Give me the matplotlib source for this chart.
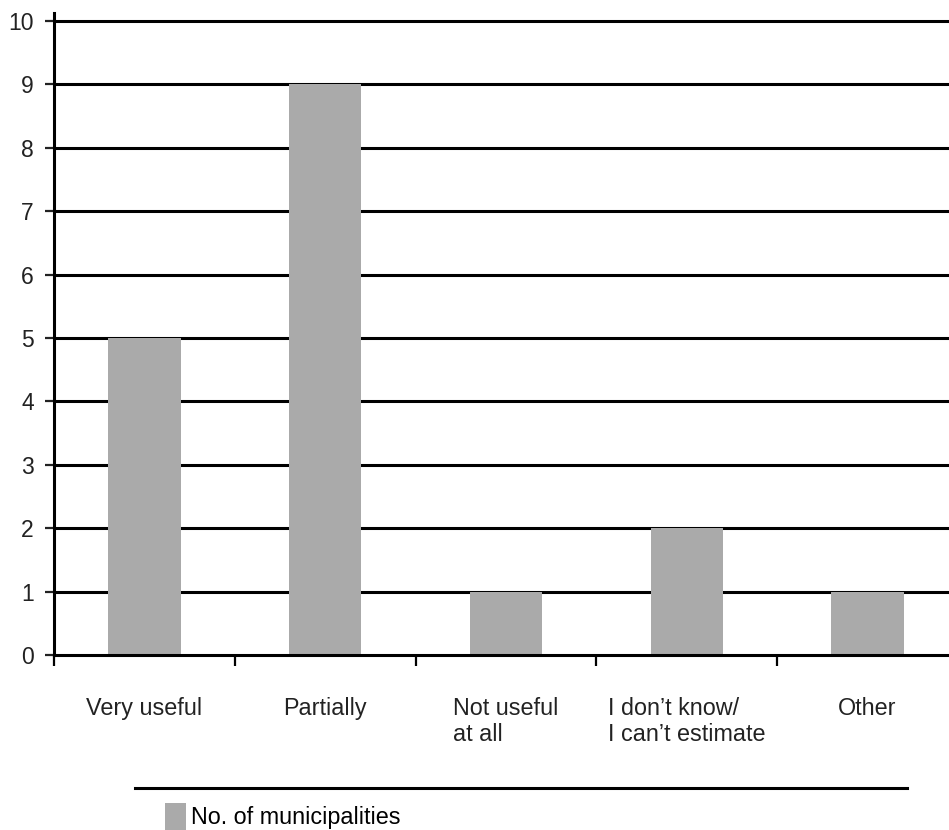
import matplotlib.pyplot as plt
import numpy as np

# answers and number of municipalities per answer
categories = ["Very useful", "Partially", "Not useful\nat all",
              "I don\u2019t know/\nI can\u2019t estimate", "Other"]
counts = [5, 9, 1, 2, 1]
series_name = "No. of municipalities"

plt.rcParams["font.family"] = ["Liberation Sans", "DejaVu Sans"]
plt.rcParams["font.size"] = 16.5

fig = plt.figure(figsize=(9.49, 8.30), dpi=100)
ax = fig.add_axes([0.0569, 0.2108, 0.9526, 0.7731])

x = np.arange(len(categories)) + 0.5
bars = ax.bar(x, counts, width=0.4, color="#aaaaaa", zorder=3, label=series_name)

ax.set_xlim(0, len(categories))
ax.set_ylim(0, 10.12)
ax.set_yticks(range(0, 11))

# category boundaries as major ticks, labels on minor ticks
ax.set_xticks(range(0, len(categories) + 1))
ax.set_xticklabels([])
ax.set_xticks(x, minor=True)
ax.set_xticklabels(categories, minor=True, multialignment="left", color="#222222",
                   fontsize=16.8)
ax.tick_params(axis="x", which="minor", length=0, pad=30)
ax.tick_params(axis="x", which="major", direction="out", length=8, width=1.6)
ax.tick_params(axis="y", direction="out", length=6.5, width=1.6, pad=8,
               colors="#222222", labelsize=16.5)

for v in range(1, 11):
    ax.axhline(v, color="black", linewidth=2.2, zorder=1)

for side in ["top", "right"]:
    ax.spines[side].set_visible(False)
for side in ["left", "bottom"]:
    ax.spines[side].set_linewidth(2.2)
    ax.spines[side].set_zorder(4)

# rule above the legend
fig.add_artist(plt.Line2D([135 / 949, 907 / 949], [1 - 788 / 830, 1 - 788 / 830],
                          color="black", linewidth=2.2))

fig.legend(handles=[bars], labels=[series_name], loc="upper left",
           bbox_to_anchor=(0.174, 0.033), frameon=False, handlelength=0.9,
           handleheight=1.4, handletextpad=0.2, borderpad=0, borderaxespad=0,
           fontsize=16.8)

fig.savefig("out.png", dpi=100)
